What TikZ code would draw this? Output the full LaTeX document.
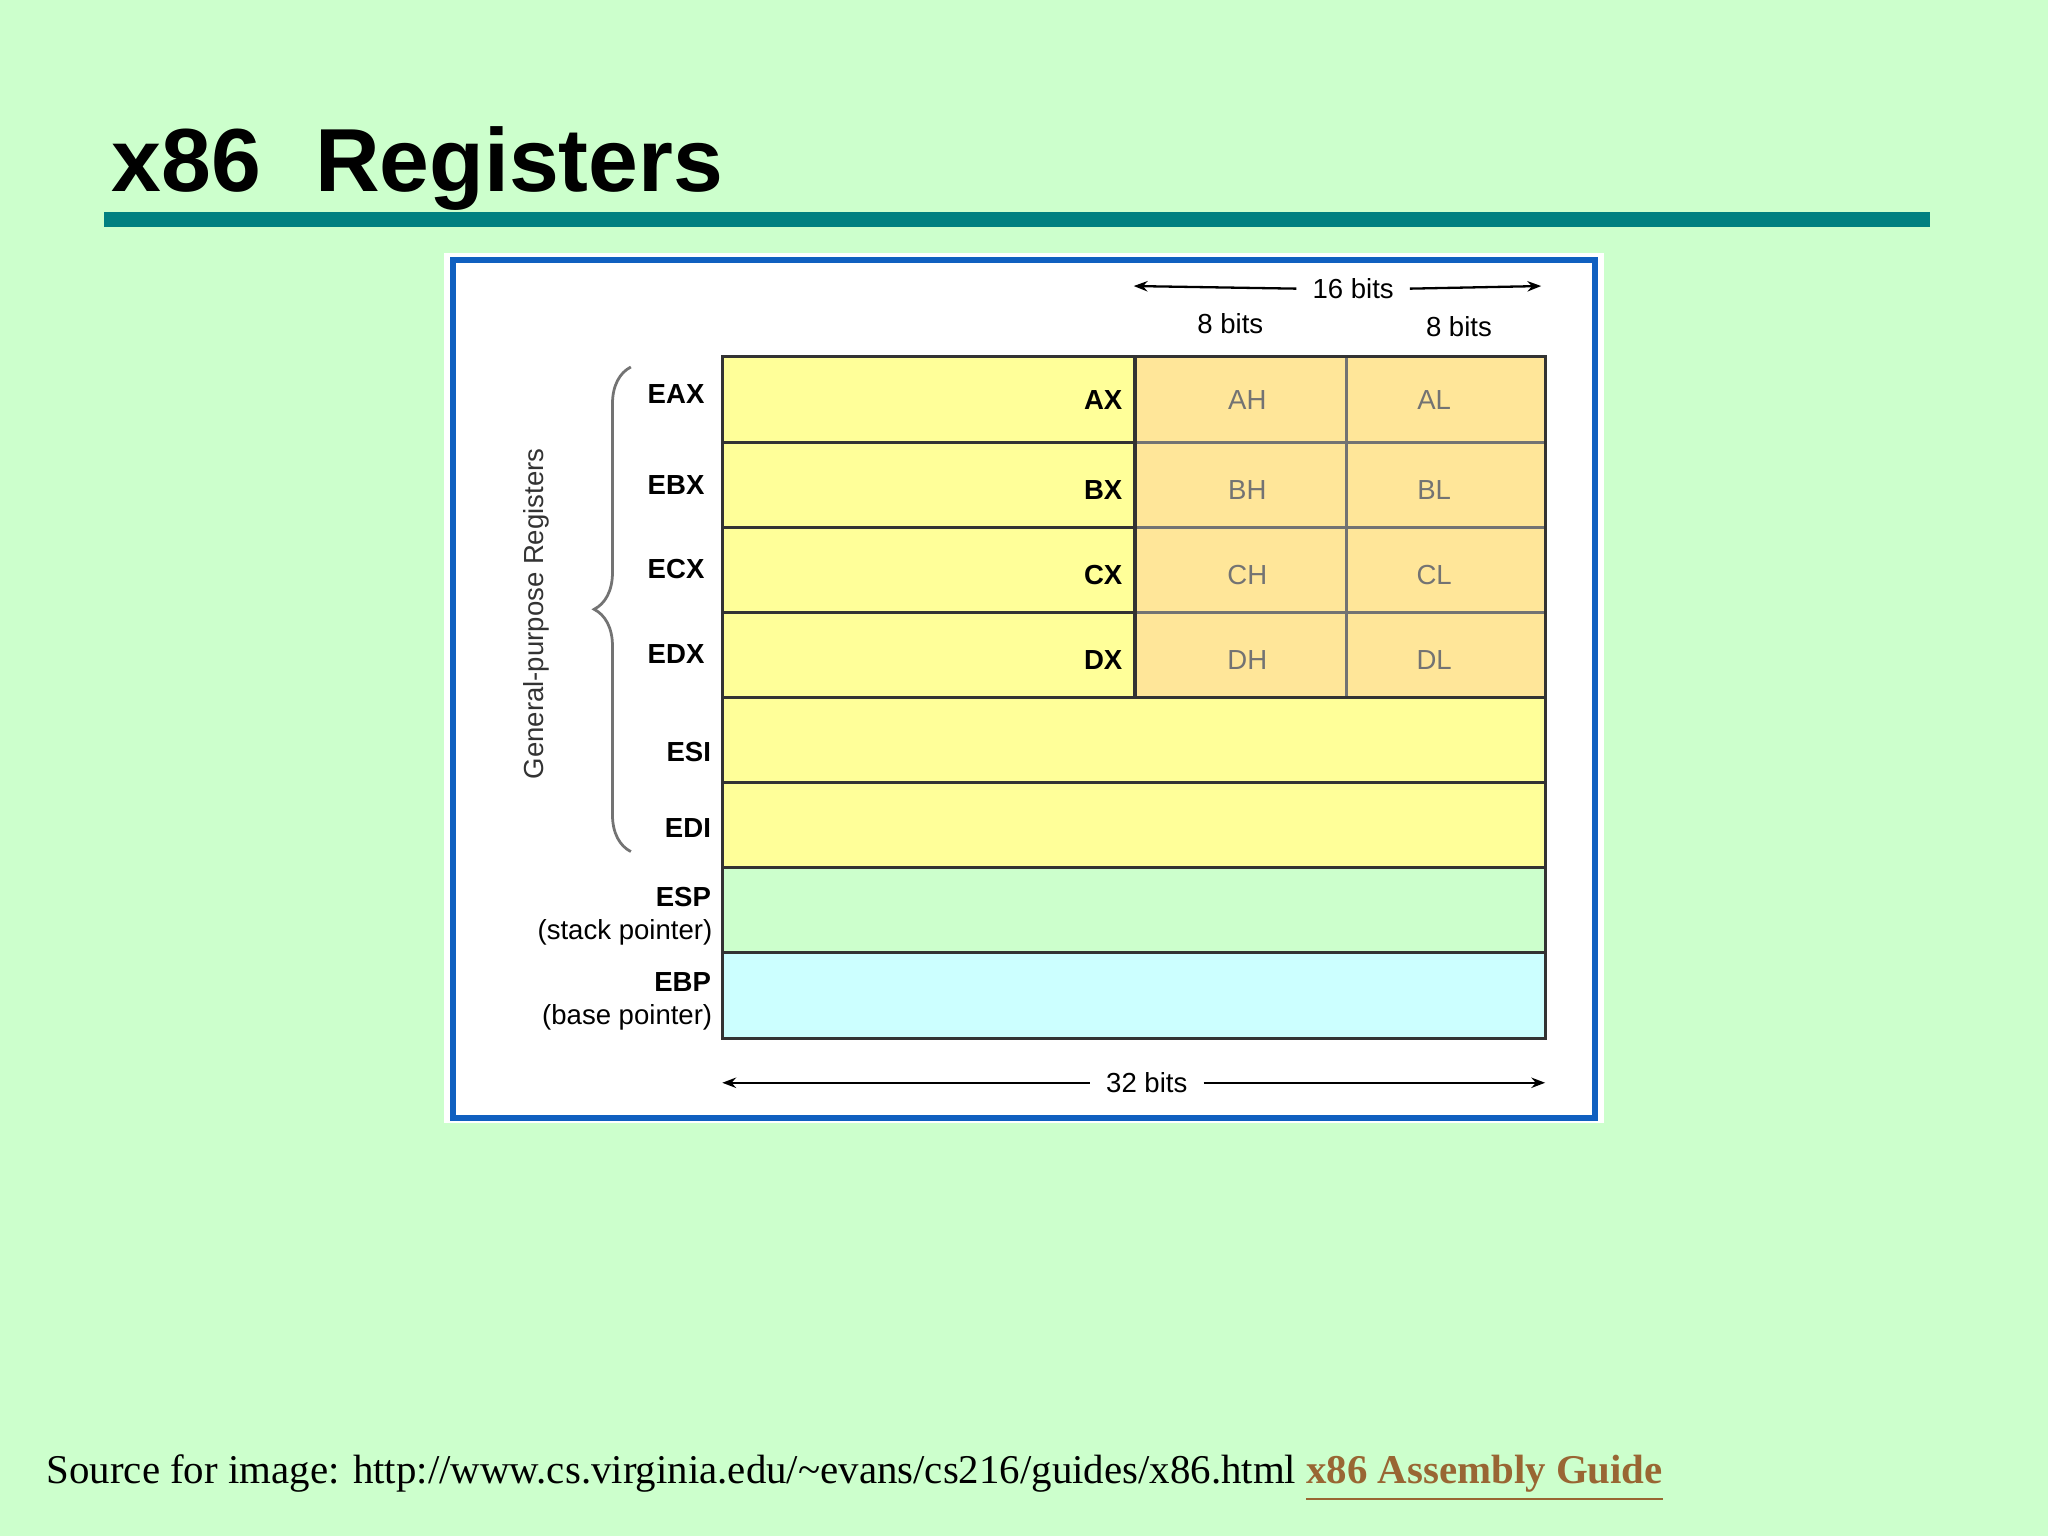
\documentclass[tikz,border=0pt]{standalone}
\usepackage{fontspec}
\setmainfont{Liberation Sans}
\newfontfamily\serifx{Liberation Serif}
\usetikzlibrary{decorations.pathreplacing,arrows.meta}
\definecolor{bg}{HTML}{CCFFCC}
\definecolor{tealbar}{HTML}{008080}
\definecolor{frameblue}{HTML}{1060C0}
\definecolor{ylw}{HTML}{FFFF99}
\definecolor{org}{HTML}{FFE699}
\definecolor{grn}{HTML}{CCFFCC}
\definecolor{cyn}{HTML}{CCFFFF}
\definecolor{link}{HTML}{996633}
\tikzset{
 reg/.style={font=\fontsize{6}{7}\selectfont\bfseries, inner sep=0},
 sub/.style={font=\fontsize{6}{7}\selectfont, text=black!55},
 lbl/.style={font=\fontsize{6}{7}\selectfont},
 cell/.style={draw=black!80, line width=0.7pt},
 dim/.style={-{Stealth[length=3pt]}, line width=0.5pt},
}
\begin{document}
\begin{tikzpicture}[x=0.01cm,y=-0.01cm]
\fill[bg] (0,0) rectangle (1568,1176);
\useasboundingbox (0,0) rectangle (1568,1176);
\node[anchor=base west,inner sep=0,font=\fontsize{19.5}{22}\selectfont\bfseries] (title) at (85,147) {x86\hspace{0.6em}Registers};
\fill[tealbar] (80,162) rectangle (1478,174);
\fill[white] (340,194) rectangle (1228,860);
\draw[frameblue,line width=1.2pt] (347,199) rectangle (1221,856);
% rows
\foreach \t/\b in {273/339,339/404,404/469,469/534}{
 \fill[ylw] (553,\t) rectangle (869,\b);
 \fill[org] (869,\t) rectangle (1183,\b);
 \draw[cell] (553,\t) rectangle (869,\b);
 \draw[cell,draw=black!55] (869,\t) rectangle (1031,\b) (1031,\t) rectangle (1183,\b);
}
\draw[cell] (869,273) rectangle (1183,534);
\draw[cell,fill=ylw] (553,534) rectangle (1183,599);
\draw[cell,fill=ylw] (553,599) rectangle (1183,664);
\draw[cell,fill=grn] (553,664) rectangle (1183,729);
\draw[cell,fill=cyn] (553,729) rectangle (1183,795);
% labels
\foreach \n/\y/\s in {EAX/306/A,EBX/375/B,ECX/440/C,EDX/505/D}{
 \node[reg,anchor=east] (\n) at (540,\y-4) {\n};
 \node[reg,anchor=east] (\s X) at (860,\y) {\s X};
 \node[sub] (\s H) at (955,\y) {\s H};
 \node[sub] (\s L) at (1098,\y) {\s L};
}
\node[reg,anchor=east] (ESI) at (545,576) {ESI};
\node[reg,anchor=east] (EDI) at (545,634) {EDI};
\node[reg,anchor=east] (ESP) at (545,687) {ESP};
\node[lbl,anchor=east,inner sep=0] (sp) at (546,714) {(stack pointer)};
\node[reg,anchor=east] (EBP) at (545,752) {EBP};
\node[lbl,anchor=east,inner sep=0] (bp) at (546,779) {(base pointer)};
% dims
\node[lbl] (b16) at (1036,221) {16 bits};
\coordinate (l16) at (868,219); \coordinate (r16) at (1180,219);
\draw[dim] (b16.west) -- (l16); \draw[dim] (b16.east) -- (r16);
\node[lbl] (b8a) at (942,248) {8 bits};
\node[lbl] (b8b) at (1117,250) {8 bits};
\node[lbl] (b32) at (878,829) {32 bits};
\coordinate (l32) at (553,829); \coordinate (r32) at (1183,829);
\draw[dim] (b32.west) -- (l32); \draw[dim] (b32.east) -- (r32);
% brace
\coordinate (bt) at (483,281); \coordinate (bb) at (483,652);
\draw[black!55,line width=0.6pt,decorate,decoration={brace,amplitude=8pt}] (bb) -- (bt);
\node[lbl,rotate=90,text=black!80] (gpr) at (411,470) {General-purpose Registers};
% source
\node[anchor=base west,inner sep=0,font=\serifx\fontsize{8.9}{10}\selectfont] (src) at (35,1136) {Source for image: http://www.cs.virginia.edu/\textasciitilde evans/cs216/guides/x86.html \textcolor{link}{\bfseries\underline{x86 Assembly Guide}}};
\end{tikzpicture}
\end{document}
